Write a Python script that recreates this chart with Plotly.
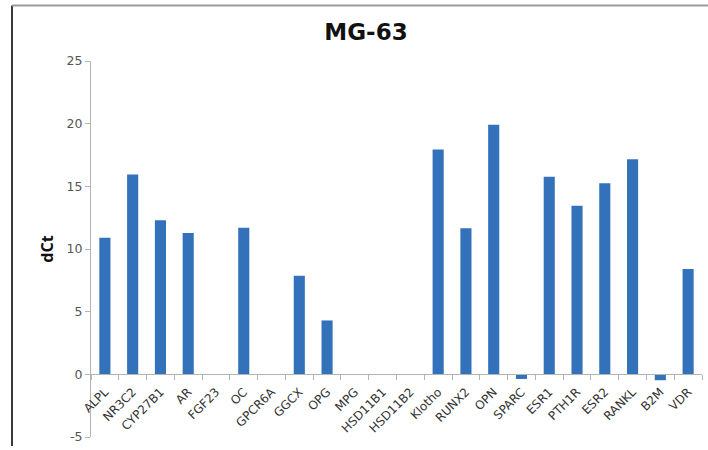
import plotly.graph_objects as go

# Gene expression (dCt) for the MG-63 cell line
genes = ["ALPL", "NR3C2", "CYP27B1", "AR", "FGF23", "OC", "GPCR6A", "GGCX",
         "OPG", "MPG", "HSD11B1", "HSD11B2", "Klotho", "RUNX2", "OPN", "SPARC",
         "ESR1", "PTH1R", "ESR2", "RANKL", "B2M", "VDR"]
dct = [10.9, 15.95, 12.3, 11.27, 0, 11.7, 0, 7.87,
       4.3, 0, 0, 0, 17.93, 11.66, 19.92, -0.37,
       15.77, 13.46, 15.25, 17.17, -0.47, 8.4]
y_ticks = [-5, 0, 5, 10, 15, 20, 25]

W, H = 708, 450
L, R, T, B = 91, 6, 61, 9
pw, ph = W - L - R, H - T - B


def px_x(px):
    return (px - L) / pw


def px_y(py):
    return (H - B - py) / ph


y_min, y_max = y_ticks[0], y_ticks[-1]

fig = go.Figure(
    go.Bar(
        x=genes,
        y=dct,
        marker=dict(color="#3471bb", line=dict(width=0)),
        width=0.4,
    )
)

axis_grey = "#b4b4b4"
fig.update_layout(
    width=W,
    height=H,
    margin=dict(l=L, r=R, t=T, b=B, pad=0),
    paper_bgcolor="white",
    plot_bgcolor="white",
    showlegend=False,
    font=dict(family="DejaVu Sans", color="#404040"),
    title=dict(
        text="<b>MG-63</b>",
        font=dict(family="DejaVu Sans", size=23, color="#111111"),
        x=366 / W,
        xanchor="center",
        xref="container",
        y=1 - 32 / H,
        yanchor="middle",
        yref="container",
    ),
    xaxis=dict(
        type="category",
        anchor="free",
        position=(0 - y_min) / (y_max - y_min),
        showline=True,
        linecolor=axis_grey,
        linewidth=1,
        ticks="outside",
        tickson="boundaries",
        ticklen=5,
        tickcolor=axis_grey,
        tickangle=-45,
        ticklabelstandoff=5,
        tickfont=dict(family="DejaVu Sans", size=12, color="#333333"),
        showgrid=False,
        zeroline=False,
        range=[-0.5, len(genes) - 0.5],
    ),
    yaxis=dict(
        range=[y_min, y_max],
        tickvals=y_ticks,
        ticktext=[str(v) for v in y_ticks],
        showline=True,
        linecolor=axis_grey,
        linewidth=1,
        ticks="outside",
        ticklen=5,
        tickcolor=axis_grey,
        tickfont=dict(family="DejaVu Sans", size=12.5, color="#555555"),
        showgrid=False,
        zeroline=False,
        title=dict(
            text="<b>dCt</b>",
            font=dict(family="Open Sans", size=16, color="#111111"),
            standoff=8,
        ),
    ),
    shapes=[
        # outer frame: left and top edges
        dict(type="line", xref="paper", yref="paper",
             x0=px_x(12), x1=px_x(12), y0=px_y(5), y1=px_y(H),
             line=dict(color="#3a3a3a", width=2)),
        dict(type="line", xref="paper", yref="paper",
             x0=px_x(12), x1=px_x(W), y0=px_y(5), y1=px_y(5),
             line=dict(color="#9a9a9a", width=2)),
    ],
)

fig.write_html("out.html")
